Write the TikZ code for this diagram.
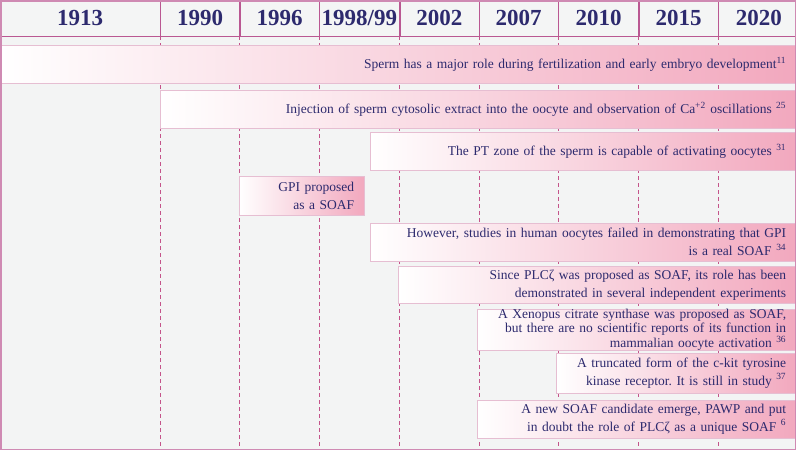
\documentclass[tikz,border=0pt]{standalone}
\usepackage{fontspec}
\setmainfont{Liberation Serif}
\usetikzlibrary{positioning}
\definecolor{headgray}{RGB}{244,245,245}
\definecolor{bggray}{RGB}{243,244,244}
\definecolor{inkblue}{RGB}{45,42,110}
\definecolor{framepink}{RGB}{186,88,146}
\definecolor{linepink}{RGB}{196,84,138}
\definecolor{barline}{RGB}{230,190,210}
\definecolor{barpink}{RGB}{242,168,190}
\frenchspacing

\begin{document}
\begin{tikzpicture}[x=1pt, y=-1pt,
    year/.style ={draw=framepink, fill=headgray, text=inkblue, minimum height=36pt, inner sep=0pt,
                  font=\fontsize{23}{23}\selectfont\bfseries},
    event/.style ={draw=barline, left color=white, right color=barpink, text=inkblue, anchor=west,
                   align=right, inner xsep=10pt, inner ysep=0pt, minimum height=38pt,
                   font=\fontsize{13.5}{17.5}\selectfont},
    yearline/.style ={linepink, dash pattern=on 4pt off 3pt, line width=0.8pt}]

   \fill[bggray] (0,0) rectangle (796,450);
   \useasboundingbox (0,0) rectangle (796,450);
   \coordinate (base) at (0,448);

   % years
   \node[year, minimum width=160pt, anchor=north west] (y1913) at (0,0) {1913};
   \node[year, minimum width=79pt, right=0pt of y1913] (y1990) {1990};
   \node[year, minimum width=79pt, right=0pt of y1990] (y1996) {1996};
   \node[year, minimum width=80pt, right=0pt of y1996] (y1998) {1998/99};
   \node[year, minimum width=79pt, right=0pt of y1998] (y2002) {2002};
   \node[year, minimum width=79pt, right=0pt of y2002] (y2007) {2007};
   \node[year, minimum width=80pt, right=0pt of y2007] (y2010) {2010};
   \node[year, minimum width=79pt, right=0pt of y2010] (y2015) {2015};
   \node[year, minimum width=81pt, right=0pt of y2015] (y2020) {2020};

   \foreach \yr in {1990,1996,1998,2002,2007,2010,2015,2020}
      \draw[yearline] (y\yr.south west) -- (y\yr.south west |- base);

   \draw[framepink, line width=1.6pt] (y1913.south west) -- (y2020.south east);

   % events
   \node[event, text width=776pt] (sperm) at (0,64)
      {Sperm has a major role during fertilization and early embryo development\textsuperscript{11}};
   \node[event, text width=616pt] (extract) at (160,109)
      {Injection of sperm cytosolic extract into the oocyte and observation of Ca\textsuperscript{+2} oscillations \textsuperscript{25}};
   \node[event, text width=406pt] (ptzone) at (370,151)
      {The PT zone of the sperm is capable of activating oocytes \textsuperscript{31}};
   \node[event, text width=105pt, minimum height=39pt] (gpi) at (239,196)
      {GPI proposed\\as a SOAF};
   \node[event, text width=406pt] (human) at (370,242)
      {However, studies in human oocytes failed in demonstrating that GPI\\is a real SOAF \textsuperscript{34}};
   \node[event, text width=378pt, minimum height=37pt] (plcz) at (398,285)
      {Since PLCζ was proposed as SOAF, its role has been\\demonstrated in several independent experiments};
   \node[event, text width=299pt, font=\fontsize{13.5}{11.5}\selectfont] (xenopus) at (477,330)
      {A Xenopus citrate synthase was proposed as SOAF,\\but there are no scientific reports of its function in\\mammalian oocyte activation \textsuperscript{36}};
   \node[event, text width=220pt, minimum height=40pt] (ckit) at (556,373)
      {A truncated form of the c-kit tyrosine\\kinase receptor. It is still in study \textsuperscript{37}};
   \node[event, text width=299pt] (pawp) at (477,419)
      {A new SOAF candidate emerge, PAWP and put\\in doubt the role of PLCζ as a unique SOAF \textsuperscript{6}};

   \draw[framepink!70, line width=1.5pt] (0.75,0.75) rectangle (795.25,449.25);

\end{tikzpicture}
\end{document}
